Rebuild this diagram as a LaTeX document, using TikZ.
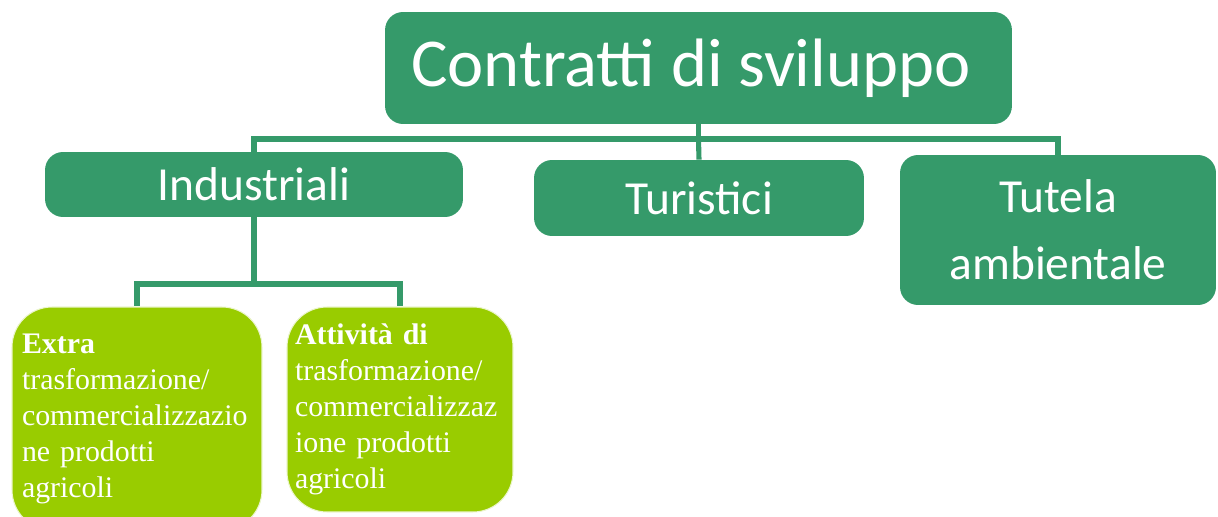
\documentclass[tikz,border=0pt]{standalone}
\usepackage{fontspec}
\setmainfont{Liberation Serif}
\newfontfamily\calib{Carlito}
\definecolor{verdescuro}{RGB}{53,154,106}
\definecolor{verdelime}{RGB}{153,204,0}
\begin{document}
\begin{tikzpicture}[x=0.02cm,y=-0.02cm,
	macro/.style={fill=verdescuro,text=white,rounded corners=0.36cm,inner sep=0pt,align=center,font=\calib},
	sotto/.style={fill=verdelime,draw=white!80!verdelime,line width=0.6pt,text=white,rounded corners=0.8cm,inner sep=0pt,align=left,font=\fontsize{17}{20.5}\selectfont},
	link/.style={draw=verdescuro,line width=2.9pt}]
		\useasboundingbox (0,0) rectangle (1218,517);

		\node[macro,minimum width=12.54cm,minimum height=2.24cm,font=\calib\fontsize{39}{48}\selectfont] (top)at(698.5,68){Contratti di sviluppo\hspace{0.3cm}};

		\node[macro,minimum width=8.36cm,minimum height=1.3cm,font=\calib\fontsize{27}{32}\selectfont] (ind)at(254,184.5){Industriali};
		\node[macro,minimum width=6.6cm,minimum height=1.52cm,font=\calib\fontsize{27}{32}\selectfont] (tur)at(699,198){Turistici};
		\node[macro,minimum width=6.32cm,minimum height=3cm,font=\calib\fontsize{27}{38}\selectfont] (tut)at(1058,230){Tutela\\ambientale};

		\node[sotto,minimum width=5cm,minimum height=4.46cm,text width=4.6cm] (ext)at(137,418.5){\textbf{Extra}\\trasformazione/\\commercializzazio\\ne prodotti\\agricoli};
		\node[sotto,minimum width=4.52cm,minimum height=4.1cm,text width=4.2cm] (att)at(400,409.5){\textbf{Attività di}\\trasformazione/\\commercializzaz\\ione prodotti\\agricoli};

		\coordinate (k1)at(698.5,139);
		\coordinate (k2)at(254,284);

		\draw [link] (top.south) -- (k1) -| (ind.north);
		\draw [link] (k1) -| (tut.north);
		\draw [link] (k1) -- (tur.north);
		\draw [link] (ind.south) -- (k2) -| (ext.north);
		\draw [link] (k2) -| (att.north);
	\end{tikzpicture}
\end{document}
